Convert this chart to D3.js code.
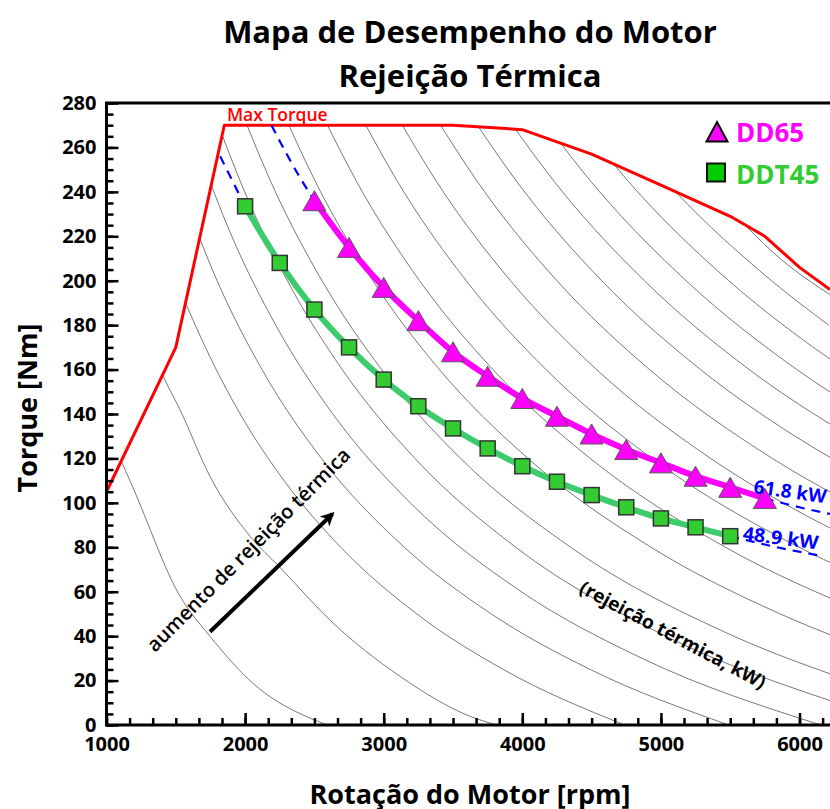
<!DOCTYPE html>
<html>
<head>
<meta charset="utf-8">
<script src="https://cdn.jsdelivr.net/npm/d3@7"></script>
<style>
  body { margin: 0; background: #fff; }
  svg { display: block; font-family: "Open Sans", sans-serif; }
</style>
</head>
<body>
<script>
// max torque envelope
let maxTorqueRpm = [1000, 1500, 1850, 3500, 4000, 4500, 5000, 5500, 5750, 6000, 6220];
let maxTorqueNm  = [105, 170, 270, 270, 268, 257, 243, 229, 220, 206, 196];

// DD65 (61.8 kW)
let dd65Rpm = [2500, 2750, 3000, 3250, 3500, 3750, 4000, 4250, 4500, 4750, 5000, 5250, 5500, 5750];
let dd65Nm  = [236, 215, 197, 182, 168, 157, 147, 139, 131, 124, 118, 112, 107, 102];

// DDT45 (48.9 kW)
let ddt45Rpm = [2000, 2250, 2500, 2750, 3000, 3250, 3500, 3750, 4000, 4250, 4500, 4750, 5000, 5250, 5500];
let ddt45Nm  = [233.5, 208, 187, 170, 155.5, 143.5, 133.5, 124.5, 116.5, 109.5, 103.5, 98, 93, 89, 85];

// dashed constant power extensions
let dash618Start = [[2190, 270], [2300, 257], [2400, 246], [2500, 236]];
let dash618End   = [[5750, 102], [6000, 98], [6220, 95]];
let dash489Start = [[1820, 256], [1900, 246], [2000, 233.5]];
let dash489End   = [[5500, 85], [5800, 80.5], [6170, 76]];

// heat rejection contour lines [rpm, Nm]
let contours = [
  [[1060,125],[1105,119],[1190,107],[1530,58],[1746,40],[2035,20],[2590,0]],
  [[1340,168],[1410,157],[1530,142],[1746,112],[2035,85],[2251,71],[2633,46],[3116,22],[3620,4],[3815,0]],
  [[1450,210],[1508,200],[1714,170],[1965,140],[2281,110],[2690,80],[3239,50],[3863,25],[4738,0]],
  [[1545,240],[1798,200],[2122,160],[2551,120],[3149,80],[3776,50],[4490,25],[5490,0]],
  [[1654,260],[1904,220],[2221,180],[2633,140],[3192,100],[3993,60],[4864,30],[6154,0]],
  [[1749,280],[1997,240],[2305,200],[2701,160],[3225,120],[3953,80],[5035,40],[6268,10]],
  [[1949,280],[2219,240],[2555,200],[2985,160],[3555,120],[4349,80],[5526,40],[6359,20]],
  [[2243,280],[2545,240],[2921,200],[3402,160],[4041,120],[4929,80],[5861,50],[6684,30]],
  [[2515,280],[2846,240],[3259,200],[3788,160],[4490,120],[5466,80],[6490,50]],
  [[2784,280],[3145,240],[3595,200],[4171,160],[4935,120],[5997,80],[6701,60]],
  [[3041,280],[3430,240],[3915,200],[4536,160],[5359,120],[6178,90],[6864,70]],
  [[3310,280],[3728,240],[4250,200],[4918,160],[5804,120],[6685,90]],
  [[3569,280],[4016,240],[4573,200],[5286,160],[5968,130],[6520,110]],
  [[3816,280],[4290,240],[4881,200],[5637,160],[6361,130]],
  [[4058,280],[4558,240],[5182,200],[5981,160],[6471,140]],
  [[4305,280],[4832,240],[5490,200],[6100,170],[6581,150]],
  [[4552,280],[5106,240],[5798,200],[6211,180]],
  [[4799,280],[5380,240],[5860,210],[6315,190]]
];

let yTicks = d3.range(0, 281, 20);
let xTicks = [1000, 2000, 3000, 4000, 5000, 6000];

let svg = d3.select("body").append("svg")
  .attr("width", 830)
  .attr("height", 809);

let x = d3.scaleLinear().domain([1000, 6220]).range([106.5, 830]);
let y = d3.scaleLinear().domain([0, 280]).range([725, 103]);

let line = d3.line().x(d => x(d[0])).y(d => y(d[1]));
let smooth = d3.line().curve(d3.curveMonotoneX).x(d => x(d[0])).y(d => y(d[1]));

// titles
svg.append("text").attr("x", 470).attr("y", 43).attr("text-anchor", "middle")
  .attr("font-size", 31).attr("font-weight", "bold").text("Mapa de Desempenho do Motor");
svg.append("text").attr("x", 470).attr("y", 87).attr("text-anchor", "middle")
  .attr("font-size", 31).attr("font-weight", "bold").text("Rejeição Térmica");

// clip region under the max torque curve
let maxPts = maxTorqueRpm.map((r, i) => [r, maxTorqueNm[i]]);
svg.append("clipPath").attr("id", "under")
  .append("path").attr("d", line(maxPts.concat([[6220, 0], [1000, 0]])) + "Z");

let gray = svg.append("g").attr("clip-path", "url(#under)");
contours.forEach(c => {
  gray.append("path").attr("d", smooth(c))
    .attr("fill", "none").attr("stroke", "#555").attr("stroke-width", 0.8);
});

// max torque
svg.append("path").attr("d", line(maxPts))
  .attr("fill", "none").attr("stroke", "#ff0000").attr("stroke-width", 3)
  .attr("stroke-linejoin", "round");
svg.append("text").attr("x", x(1869)).attr("y", y(272)).attr("fill", "#ff0000")
  .attr("font-size", 17.5).attr("font-weight", 600).text("Max Torque");

// blue dashed extensions
[dash618Start, dash618End, dash489Start, dash489End].forEach(d => {
  svg.append("path").attr("d", smooth(d))
    .attr("fill", "none").attr("stroke", "#0000ff").attr("stroke-width", 2.2)
    .attr("stroke-dasharray", "9,7");
});

// DDT45 curve and squares
let ddt45 = ddt45Rpm.map((r, i) => [r, ddt45Nm[i]]);
svg.append("path").attr("d", smooth(ddt45))
  .attr("fill", "none").attr("stroke", "#3ccc6c").attr("stroke-width", 6);
svg.selectAll(".sq").data(ddt45).enter().append("rect")
  .attr("x", d => x(d[0]) - 7.5).attr("y", d => y(d[1]) - 7.5)
  .attr("width", 15).attr("height", 15)
  .attr("fill", "#33cc33").attr("stroke", "#333").attr("stroke-width", 1.5);

// DD65 curve and triangles
let dd65 = dd65Rpm.map((r, i) => [r, dd65Nm[i]]);
svg.append("path").attr("d", smooth(dd65))
  .attr("fill", "none").attr("stroke", "#ff00ff").attr("stroke-width", 6);
svg.selectAll(".tri").data(dd65).enter().append("path")
  .attr("d", "M0,-10L11.5,10L-11.5,10Z")
  .attr("transform", d => "translate(" + x(d[0]) + "," + y(d[1]) + ")")
  .attr("fill", "#ff00ff").attr("stroke", "#555").attr("stroke-width", 1);

// power labels
svg.append("text").attr("transform", "translate(" + x(5665) + "," + y(104.4) + ") rotate(8)")
  .attr("fill", "#0000ff").attr("font-size", 19).attr("font-weight", "bold")
  .attr("textLength", 73).attr("lengthAdjust", "spacingAndGlyphs").text("61.8 kW");
svg.append("text").attr("transform", "translate(" + x(5586) + "," + y(83.3) + ") rotate(7)")
  .attr("fill", "#0000ff").attr("font-size", 19).attr("font-weight", "bold")
  .attr("textLength", 76).attr("lengthAdjust", "spacingAndGlyphs").text("48.9 kW");

// arrow annotation
svg.append("defs").append("marker").attr("id", "head")
  .attr("viewBox", "0 0 10 10").attr("refX", 8).attr("refY", 5)
  .attr("markerWidth", 14).attr("markerHeight", 14).attr("markerUnits", "userSpaceOnUse")
  .attr("orient", "auto")
  .append("path").attr("d", "M0,0L10,5L0,10L3,5Z").attr("fill", "#000");
svg.append("line")
  .attr("x1", x(1747)).attr("y1", y(42)).attr("x2", x(2630)).attr("y2", y(95))
  .attr("stroke", "#000").attr("stroke-width", 4).attr("marker-end", "url(#head)");
svg.append("text").attr("transform", "translate(" + x(1350) + "," + y(32.4) + ") rotate(-45)")
  .attr("font-size", 20).attr("font-weight", 600).text("aumento de rejeição térmica");
svg.append("text").attr("transform", "translate(" + x(4402) + "," + y(59.9) + ") rotate(28)")
  .attr("font-size", 19).attr("font-weight", "bold").text("(rejeição térmica, kW)");

// legend
svg.append("path").attr("d", "M717,122L727.5,141.5L706.5,141.5Z")
  .attr("fill", "#ff00ff").attr("stroke", "#000").attr("stroke-width", 2);
svg.append("text").attr("x", 736).attr("y", 142).attr("fill", "#ff00ff")
  .attr("font-size", 26).attr("font-weight", "bold").text("DD65");
svg.append("rect").attr("x", 707).attr("y", 163.5).attr("width", 18).attr("height", 18)
  .attr("fill", "#00cc00").attr("stroke", "#111").attr("stroke-width", 2);
svg.append("text").attr("x", 736).attr("y", 184).attr("fill", "#33cc33")
  .attr("font-size", 26).attr("font-weight", "bold").text("DDT45");

// axes
let yAxis = svg.append("g").attr("transform", "translate(106.5,0)")
  .call(d3.axisLeft(y).tickValues(yTicks).tickSize(-12).tickPadding(10));
svg.append("g").attr("transform", "translate(106.5,0)")
  .call(d3.axisLeft(y).tickValues(d3.range(0, 281, 5)).tickSize(-7).tickFormat(""))
  .call(g => g.select(".domain").remove())
  .selectAll("line").attr("stroke-width", 2.5);

let xAxis = svg.append("g").attr("transform", "translate(0,725)")
  .call(d3.axisBottom(x).tickValues(xTicks).tickSize(-12).tickPadding(12).tickFormat(d3.format("d")));
svg.append("g").attr("transform", "translate(0,725)")
  .call(d3.axisBottom(x).tickValues(d3.range(1000, 6220, 1000 / 6)).tickSize(-7).tickFormat(""))
  .call(g => g.select(".domain").remove())
  .selectAll("line").attr("stroke-width", 2.5);

[yAxis, xAxis].forEach(g => {
  g.select(".domain").remove();
  g.selectAll("line").attr("stroke-width", 2.5);
  g.selectAll("text").attr("font-size", 20).attr("font-weight", "bold")
    .attr("font-family", "'Open Sans', sans-serif").attr("fill", "#000");
});

// frame
svg.append("path").attr("d", "M830,103H106.5V725H830")
  .attr("fill", "none").attr("stroke", "#000").attr("stroke-width", 3);

// axis titles
svg.append("text").attr("transform", "translate(37,408) rotate(-90)")
  .attr("text-anchor", "middle").attr("font-size", 27).attr("font-weight", "bold")
  .text("Torque [Nm]");
svg.append("text").attr("x", 470).attr("y", 804).attr("text-anchor", "middle")
  .attr("font-size", 27).attr("font-weight", "bold").text("Rotação do Motor [rpm]");
</script>
</body>
</html>
